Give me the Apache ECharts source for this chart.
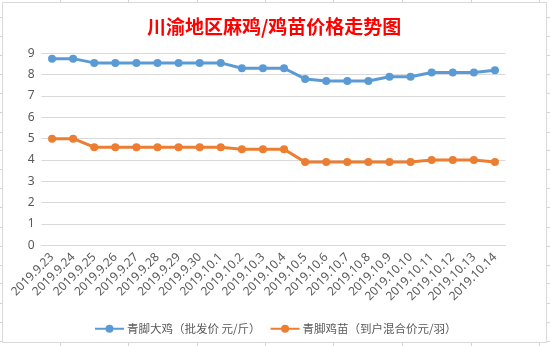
<!DOCTYPE html>
<html>
<head>
<meta charset="utf-8">
<script src="https://cdn.jsdelivr.net/npm/echarts@6/dist/echarts.min.js"></script>
<style>html,body{margin:0;padding:0;background:#fff;}#c{width:550px;height:346px;}</style>
</head>
<body>
<div id="c"></div>
<script>
const titleText = '川渝地区麻鸡/鸡苗价格走势图';
const categories = ['2019.9.23','2019.9.24','2019.9.25','2019.9.26','2019.9.27','2019.9.28','2019.9.29','2019.9.30','2019.10.1','2019.10.2','2019.10.3','2019.10.4','2019.10.5','2019.10.6','2019.10.7','2019.10.8','2019.10.9','2019.10.10','2019.10.11','2019.10.12','2019.10.13','2019.10.14'];
const seriesNames = ['青脚大鸡（批发价 元/斤）','青脚鸡苗（到户混合价元/羽）'];
const chickenPrice = [8.75,8.75,8.55,8.55,8.55,8.55,8.55,8.55,8.55,8.3,8.3,8.3,7.8,7.7,7.7,7.7,7.9,7.9,8.1,8.1,8.1,8.2];
const chickPrice = [5,5,4.6,4.6,4.6,4.6,4.6,4.6,4.6,4.5,4.5,4.5,3.9,3.9,3.9,3.9,3.9,3.9,4,4,4,3.9];
const yTicks = [0,1,2,3,4,5,6,7,8,9];

// decorative spreadsheet cell lines behind the chart box
const cellX = [60,128.3,196.7,265,333.3,402,470.7,539];
const cellY = [16.7,36,55,74,93,112,131.7,150,169,188,207,227,245.7,265,283,302.7,321.7,340.7];
const graphics = [];
cellX.forEach(x => graphics.push({type:'line', z:-20, silent:true, shape:{x1:Math.round(x)+0.5,y1:0,x2:Math.round(x)+0.5,y2:346}, style:{stroke:'#d4d4d4',lineWidth:1}}));
cellY.forEach(y => graphics.push({type:'line', z:-20, silent:true, shape:{x1:0,y1:Math.round(y)+0.5,x2:550,y2:Math.round(y)+0.5}, style:{stroke:'#d4d4d4',lineWidth:1}}));
graphics.push({type:'rect', z:-10, silent:true, shape:{x:2.5,y:2.5,width:544,height:340}, style:{fill:'#fff',stroke:'#d9d9d9',lineWidth:1}});

const chart = echarts.init(document.getElementById('c'), null, {renderer:'canvas'});
chart.setOption({
  animation:false,
  backgroundColor:'#fff',
  graphic: graphics,
  title:{
    text:titleText,
    left:142, top:12,
    textStyle:{color:'#ff0000', fontSize:19, fontWeight:'bold', fontFamily:'Noto Sans CJK SC'}
  },
  legend:{
    left:89, top:318,
    itemWidth:29, itemHeight:10, itemGap:9,
    textStyle:{color:'#595959', fontSize:11.5, fontFamily:'Noto Sans CJK SC', padding:[0,0,0,-2]},
    data:seriesNames
  },
  grid:{left:41.5, right:44.5, top:53.3, bottom:100.7, containLabel:false},
  xAxis:{
    type:'category', data:categories, boundaryGap:true,
    axisLine:{show:true, lineStyle:{color:'#d9d9d9', width:1}},
    axisTick:{show:false},
    axisLabel:{rotate:45, margin:10, interval:0, color:'#595959', fontSize:12, fontFamily:'Noto Sans'},
  },
  yAxis:{
    type:'value', min:yTicks[0], max:yTicks[yTicks.length-1], interval:1,
    axisLine:{show:false}, axisTick:{show:false},
    axisLabel:{color:'#595959', fontSize:12, margin:7, fontFamily:'Noto Sans'},
    splitLine:{lineStyle:{color:'#d9d9d9', width:1}}
  },
  series:[
    {name:seriesNames[0], type:'line', data:chickenPrice, symbol:'circle', symbolSize:8,
     itemStyle:{color:'#5b9bd5'}, lineStyle:{color:'#5b9bd5', width:3}, z:3},
    {name:seriesNames[1], type:'line', data:chickPrice, symbol:'circle', symbolSize:8,
     itemStyle:{color:'#ed7d31'}, lineStyle:{color:'#ed7d31', width:3}, z:3}
  ]
});
</script>
</body>
</html>
